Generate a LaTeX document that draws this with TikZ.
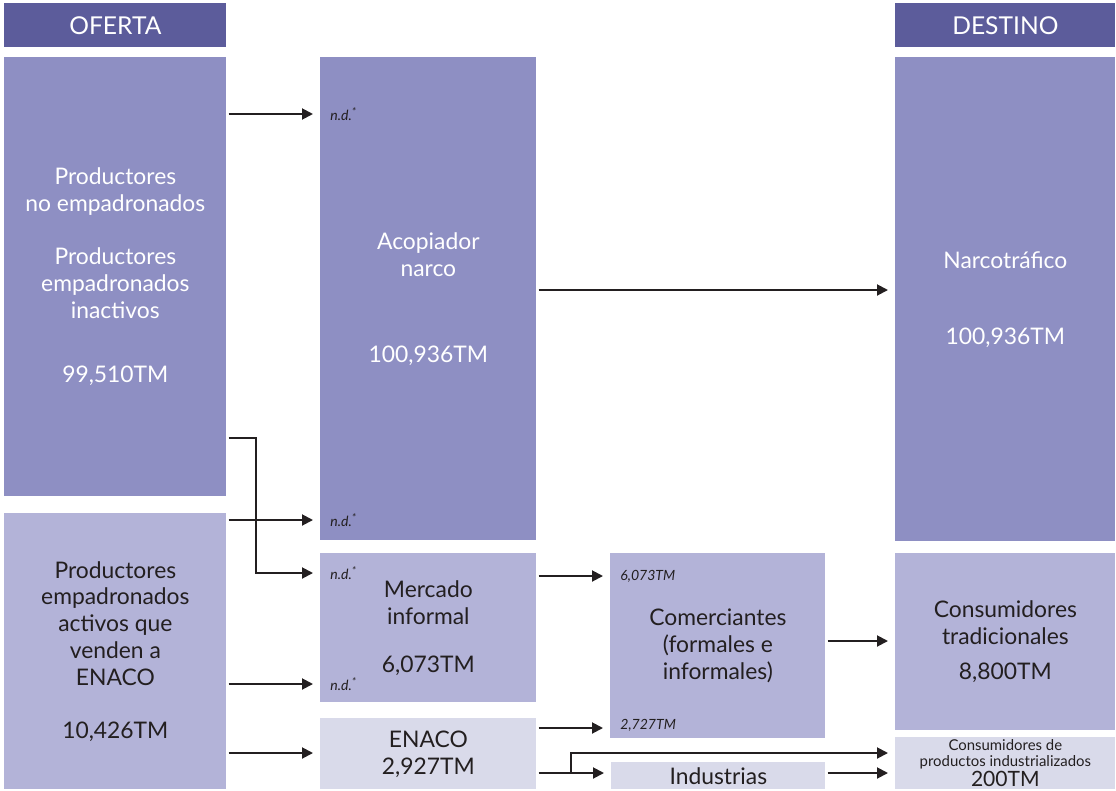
\documentclass[tikz,border=0pt]{standalone}
\usepackage{fontspec}
\setmainfont{Lato}
\usetikzlibrary{arrows.meta,positioning}

\definecolor{hdr}{HTML}{5C5C9B}
\definecolor{dark}{HTML}{8E8FC3}
\definecolor{mid}{HTML}{B3B3D8}
\definecolor{pale}{HTML}{D9DAEA}
\definecolor{ink}{HTML}{231F20}

\def\pxl{0.02cm}

\tikzset{
  box/.style 2 args={rectangle, anchor=north west, inner sep=0pt, align=center,
    minimum width=#1*\pxl, minimum height=#2*\pxl, text=ink,
    font=\fontsize{13}{15.3}\selectfont},
  head/.style={fill=hdr, text=white, font=\fontsize{14}{16}\selectfont},
  flow/.style={draw=ink, line width=1.1pt, shorten <=0.04cm, shorten >=0.14cm,
    -{Triangle[length=0.22cm,width=0.22cm]}},
  nd/.style={anchor=west, inner sep=0pt, text=ink, xshift=0.2cm,
    font=\fontsize{8}{9}\selectfont\itshape}
}

\begin{document}
\begin{tikzpicture}[x=0.02cm, y=-0.02cm]
\useasboundingbox (0,0) rectangle (1116,791);

% headers
\node[box={222}{44}, head] (oferta) at (4,3) {OFERTA};
\node[box={220}{44}, head] (destino) at (895,3) {DESTINO};

% oferta
\node[box={222}{439}, fill=dark, text=white] (noemp) at (4,57)
  {Productores\\no empadronados\\[14.7pt]Productores\\empadronados\\inactivos\\[21.5pt]99,510TM};
\node[box={222}{276}, fill=mid] (activos) at (4,513)
  {Productores\\empadronados\\activos que\\venden a\\ENACO\\[14.7pt]10,426TM};

% intermediarios
\node[box={216}{483}, fill=dark, text=white] (acop) at (320,57)
  {Acopiador\\narco\\[33.5pt]100,936TM};
\node[box={216}{149}, fill=mid] (merc) at (320,553)
  {Mercado\\informal\\[12pt]6,073TM};
\node[box={216}{71}, fill=pale] (enaco) at (320,718) {ENACO\\2,927TM};
\node[box={215}{185}, fill=mid] (comer) at (610,553)
  {Comerciantes\\(formales e\\informales)};
\node[box={214}{27}, fill=pale] (indus) at (611,762) {Industrias};

% destino
\node[box={220}{484}, fill=dark, text=white] (narco) at (895,57)
  {Narcotráfico\\[27.8pt]100,936TM};
\node[box={220}{177}, fill=mid] (ctrad) at (895,553)
  {Consumidores\\tradicionales\\[5pt]8,800TM};
\node[box={220}{52}, fill=pale, font=\fontsize{8.5}{9}\selectfont] (cind) at (895,737)
  {Consumidores de\\productos industrializados\\[0.5pt]{\fontsize{12}{11}\selectfont 200TM}};

% flujos
\coordinate (bend) at (256,573);
\coordinate (split) at (571,773);
\draw[flow] (noemp.east |- 0,114) -- (acop.west |- 0,114);
\draw[flow] (noemp.east |- 0,438) -| (bend) -- (merc.west |- bend);
\draw[flow] (activos.east |- 0,520) -- (acop.west |- 0,520);
\draw[flow] (activos.east |- 0,684) -- (merc.west |- 0,684);
\draw[flow] (activos.east |- 0,753) -- (enaco.west |- 0,753);
\draw[flow] (acop.east |- 0,290) -- (narco.west |- 0,290);
\draw[flow] (merc.east |- 0,576) -- (comer.west |- 0,576);
\draw[flow] (enaco.east |- 0,728) -- (comer.west |- 0,728);
\draw[flow] (enaco.east |- 0,773) -- (indus.west |- 0,773);
\draw[flow, shorten <=0pt] (split) |- (cind.west |- 0,753);
\draw[flow] (comer.east |- 0,641) -- (ctrad.west |- 0,641);
\draw[flow] (indus.east |- 0,773) -- (cind.west |- 0,773);

% etiquetas
\node[nd] (nd1) at (acop.west |- 0,114) {n.d.\textsuperscript{*}};
\node[nd] (nd2) at (acop.west |- 0,520) {n.d.\textsuperscript{*}};
\node[nd] (nd3) at (merc.west |- bend) {n.d.\textsuperscript{*}};
\node[nd] (nd4) at (merc.west |- 0,684) {n.d.\textsuperscript{*}};
\node[nd] (vol1) at (comer.west |- 0,576) {6,073TM};
\node[nd] (vol2) at (comer.west |- 0,725) {2,727TM};

\end{tikzpicture}
\end{document}
